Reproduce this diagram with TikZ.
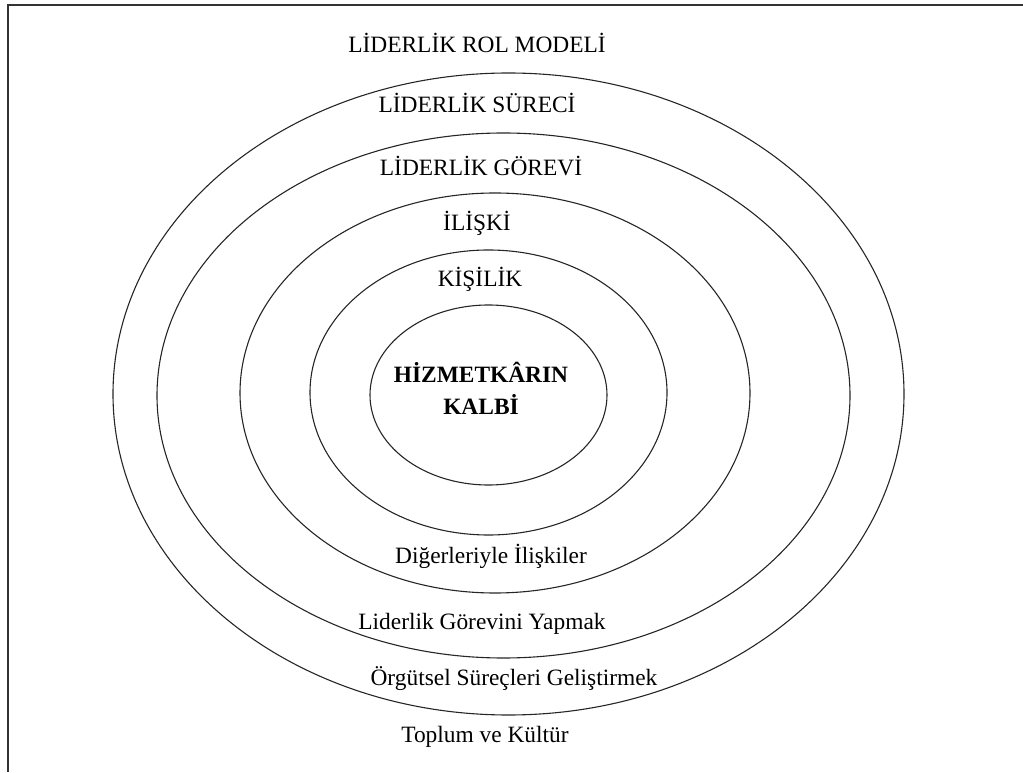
\documentclass[tikz,border=0pt]{standalone}
\usepackage{fontspec}
\setmainfont{Liberation Serif}
\tikzset{
  ring/.style={draw=black!85, line width=0.55pt},
  katman/.style={anchor=base, inner sep=0pt, font=\fontsize{11.7}{14}\selectfont},
}
\begin{document}
\begin{tikzpicture}[x=0.5pt, y=0.5pt]
\useasboundingbox (0,0) rectangle (1023,772);
% cerceve (sadece sol ve ust kenar gorunuyor)
\draw[line width=1pt, black!80] (8,0) -- (8,767) -- (1023,767);
% halkalar
\draw[ring] (508.5,378) ellipse [x radius=395.5, y radius=321];
\draw[ring] (503.5,376.5) ellipse [x radius=346.5, y radius=262.5];
\draw[ring] (495,379) ellipse [x radius=255, y radius=200];
\draw[ring] (488.5,379.5) ellipse [x radius=178.5, y radius=142.5];
\draw[ring] (488.5,377) ellipse [x radius=118.5, y radius=90];
% ust etiketler
\node[katman] (rolmodel) at (477,719) {LİDERLİK ROL MODELİ};
\node[katman] (surec) at (477,659) {LİDERLİK SÜRECİ};
\node[katman] (gorev) at (481,596) {LİDERLİK GÖREVİ};
\node[katman] (iliski) at (477,541) {İLİŞKİ};
\node[katman] (kisilik) at (480,485) {KİŞİLİK};
\node[katman, anchor=center, align=center, font=\fontsize{11.7}{16}\selectfont\bfseries] (kalp) at (481,384) {HİZMETKÂRIN\\KALBİ};
% alt etiketler
\node[katman] (digerleri) at (491,209) {Diğerleriyle İlişkiler};
\node[katman] (yapmak) at (482,143) {Liderlik Görevini Yapmak};
\node[katman] (orgutsel) at (514,87) {Örgütsel Süreçleri Geliştirmek};
\node[katman] (toplum) at (485,30) {Toplum ve Kültür};
\end{tikzpicture}
\end{document}
